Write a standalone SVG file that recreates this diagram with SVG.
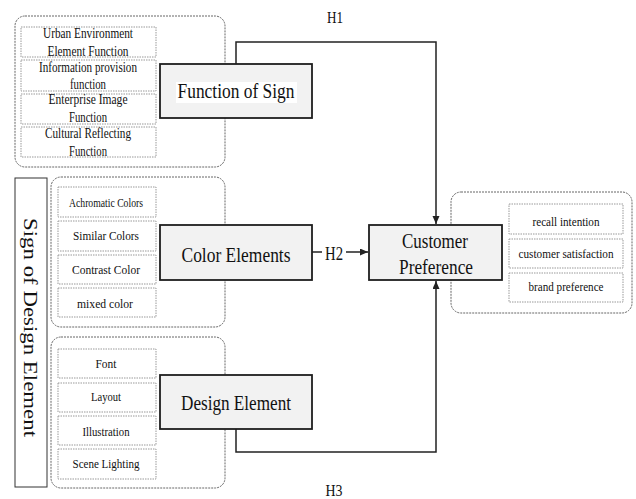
<svg xmlns="http://www.w3.org/2000/svg" width="636" height="499" viewBox="0 0 636 499">
<style>
text{font-family:"Liberation Serif","Times New Roman",serif;fill:#111;}
.grp{fill:#fff;stroke:#666;stroke-width:1;stroke-dasharray:2 1;}
.item{fill:#fff;stroke:#999;stroke-width:1;stroke-dasharray:1.5 1;}
.main{fill:#f2f2f2;stroke:#1e1e1e;stroke-width:1.8;}
.conn{fill:none;stroke:#222;stroke-width:1.5;}
.t14{font-size:14px;text-anchor:middle;}
.t13{font-size:13px;text-anchor:middle;}
.t12{font-size:12.5px;text-anchor:middle;}
.t20{font-size:20px;text-anchor:middle;}
.t21{font-size:21px;text-anchor:middle;}
.h{font-size:16px;text-anchor:middle;}
</style>
<defs>
<marker id="arr" markerUnits="userSpaceOnUse" markerWidth="9" markerHeight="8" refX="8" refY="3.5" orient="auto">
<path d="M0,0 L8,3.5 L0,7 z" fill="#222"/>
</marker>
</defs>
<rect width="636" height="499" fill="#fff"/>

<g id="function-group">
<rect class="grp" x="15" y="16" width="210" height="151" rx="10"/>
<rect class="item" x="21" y="27" width="135" height="30"/>
<rect class="item" x="21" y="60" width="135" height="31"/>
<rect class="item" x="21" y="94" width="135" height="30"/>
<rect class="item" x="21" y="127" width="135" height="30"/>
<text class="t14" x="88" y="38" textLength="90" lengthAdjust="spacingAndGlyphs">Urban Environment</text>
<text class="t14" x="88" y="56" textLength="81" lengthAdjust="spacingAndGlyphs">Element  Function</text>
<text class="t14" x="88" y="72" textLength="98" lengthAdjust="spacingAndGlyphs">Information  provision</text>
<text class="t14" x="88" y="89" textLength="36" lengthAdjust="spacingAndGlyphs">function</text>
<text class="t14" x="88" y="104" textLength="79" lengthAdjust="spacingAndGlyphs">Enterprise  Image</text>
<text class="t14" x="88" y="122" textLength="38" lengthAdjust="spacingAndGlyphs">Function</text>
<text class="t14" x="88" y="138" textLength="86" lengthAdjust="spacingAndGlyphs">Cultural  Reflecting</text>
<text class="t14" x="88" y="156" textLength="38" lengthAdjust="spacingAndGlyphs">Function</text>
</g>

<g id="color-group">
<rect class="grp" x="51" y="177" width="174" height="150" rx="10"/>
<rect class="item" x="58" y="187" width="98" height="30"/>
<rect class="item" x="58" y="221" width="98" height="30"/>
<rect class="item" x="58" y="255" width="98" height="29"/>
<rect class="item" x="58" y="288" width="98" height="29"/>
<text class="t12" x="106" y="207" textLength="74" lengthAdjust="spacingAndGlyphs">Achromatic Colors</text>
<text class="t12" x="106" y="240" textLength="66" lengthAdjust="spacingAndGlyphs">Similar  Colors</text>
<text class="t12" x="106" y="274" textLength="68" lengthAdjust="spacingAndGlyphs">Contrast Color</text>
<text class="t12" x="105" y="308" textLength="56" lengthAdjust="spacingAndGlyphs">mixed  color</text>
</g>

<g id="design-group">
<rect class="grp" x="51" y="337" width="174" height="151" rx="10"/>
<rect class="item" x="58" y="349" width="98" height="29"/>
<rect class="item" x="58" y="383" width="98" height="29"/>
<rect class="item" x="58" y="416" width="98" height="29"/>
<rect class="item" x="58" y="449" width="98" height="30"/>
<text class="t13" x="106" y="368" textLength="21" lengthAdjust="spacingAndGlyphs">Font</text>
<text class="t13" x="106" y="401" textLength="30" lengthAdjust="spacingAndGlyphs">Layout</text>
<text class="t13" x="106" y="436" textLength="47" lengthAdjust="spacingAndGlyphs">Illustration</text>
<text class="t13" x="106" y="468" textLength="67" lengthAdjust="spacingAndGlyphs">Scene Lighting</text>
</g>

<g id="preference-group">
<rect class="grp" x="451" y="192" width="181" height="121" rx="10"/>
<rect class="item" x="509" y="204" width="114" height="30"/>
<rect class="item" x="509" y="239" width="114" height="29"/>
<rect class="item" x="509" y="273" width="114" height="29"/>
<text class="t13" x="566" y="226" textLength="67" lengthAdjust="spacingAndGlyphs">recall  intention</text>
<text class="t13" x="566" y="258" textLength="95" lengthAdjust="spacingAndGlyphs">customer  satisfaction</text>
<text class="t13" x="566" y="291" textLength="75" lengthAdjust="spacingAndGlyphs">brand preference</text>
</g>

<g id="connectors">
<path class="conn" d="M236,64 V42 H436 V224" marker-end="url(#arr)"/>
<path class="conn" d="M312,252 H322"/>
<path class="conn" d="M346,252 H368" marker-end="url(#arr)"/>
<path class="conn" d="M236,429 V452 H436 V281" marker-end="url(#arr)"/>
<text class="h" x="335" y="23" textLength="16" lengthAdjust="spacingAndGlyphs">H1</text>
<text class="h" x="334" y="260" textLength="18" lengthAdjust="spacingAndGlyphs" style="font-size:18px">H2</text>
<text class="h" x="334" y="496" textLength="17" lengthAdjust="spacingAndGlyphs">H3</text>
</g>

<g id="function-of-sign">
<rect class="main" x="160" y="64" width="152" height="54"/>
<rect x="176" y="82" width="121" height="21" fill="#fff"/>
<text class="t20" x="236" y="98" textLength="117" lengthAdjust="spacingAndGlyphs">Function of Sign</text>
</g>

<g id="color-elements">
<rect class="main" x="160" y="225" width="152" height="55"/>
<text class="t20" x="236" y="262" textLength="109" lengthAdjust="spacingAndGlyphs">Color Elements</text>
</g>

<g id="design-element">
<rect class="main" x="160" y="375" width="152" height="54"/>
<text class="t20" x="236" y="410" textLength="110" lengthAdjust="spacingAndGlyphs">Design Element</text>
</g>

<g id="customer-preference">
<rect class="main" x="369" y="225" width="133" height="55"/>
<text class="t21" x="435" y="248" textLength="66" lengthAdjust="spacingAndGlyphs">Customer</text>
<text class="t21" x="436" y="274" textLength="74" lengthAdjust="spacingAndGlyphs">Preference</text>
</g>

<g id="sign-of-design-element">
<rect x="15" y="178" width="32" height="309" fill="#fff" stroke="#333" stroke-width="1"/>
<text transform="translate(24,218) rotate(90)" x="0" y="0" style="font-size:19px" textLength="219" lengthAdjust="spacingAndGlyphs">Sign of Design Element</text>
</g>
</svg>
